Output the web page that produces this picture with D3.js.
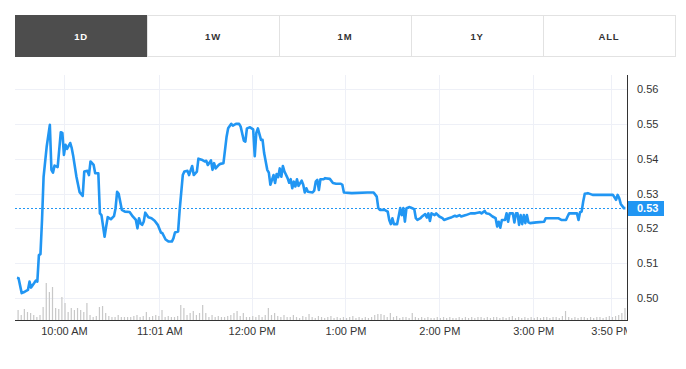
<!DOCTYPE html>
<html>
<head>
<meta charset="utf-8">
<script src="https://cdn.jsdelivr.net/npm/d3@7"></script>
<style>
  body { margin: 0; background: #fff; }
  text { font-family: "Liberation Sans", Arial, sans-serif; }
</style>
</head>
<body>
<div class="canvas"></div>
<script>
// range buttons
const tabs = ['1D', '1W', '1M', '1Y', 'ALL'];
const activeTab = '1D';

// price: minutes after the 9:30 open, and the last trade in that minute
const minutes = [
  0, 1, 3, 5, 7, 8, 9, 11, 12, 13, 14, 15, 16, 17, 19, 21, 22, 23, 24, 26,
  28, 29, 30, 31, 32, 34, 35, 36, 38, 40, 42, 43, 45, 46, 47, 49, 50, 52, 53, 54,
  56, 57, 58, 60, 62, 63, 64, 65, 67, 69, 72, 74, 76, 77, 78, 79, 80, 81, 82, 84,
  86, 88, 90, 92, 93, 95, 97, 99, 100, 101, 103, 104, 106, 107, 109, 110, 112, 113, 115, 116,
  118, 120, 121, 122, 124, 125, 126, 127, 129, 130, 132, 134, 135, 137, 138, 140, 142, 143, 145, 146,
  147, 149, 151, 152, 153, 154, 156, 157, 158, 160, 161, 162, 164, 165, 166, 167, 168, 169, 170, 171,
  173, 174, 175, 176, 177, 178, 179, 180, 182, 183, 184, 185, 186, 189, 190, 191, 192, 193, 194, 196,
  197, 200, 202, 204, 207, 208, 209, 214, 224, 228, 230, 231, 232, 235, 237, 238, 239, 240, 241, 243,
  244, 245, 246, 247, 248, 249, 251, 252, 254, 255, 256, 258, 259, 261, 262, 263, 264, 265, 267, 268,
  270, 272, 273, 276, 278, 280, 281, 283, 284, 287, 290, 293, 296, 297, 299, 300, 302, 304, 306, 307,
  308, 309, 310, 312, 313, 314, 315, 317, 318, 319, 320, 321, 322, 323, 324, 325, 326, 327, 328, 332,
  337, 338, 346, 348, 351, 352, 353, 358, 359, 360, 361, 362, 363, 365, 368, 381, 383, 384, 385, 386,
  388, 389
];
const prices = [
  .5058, .5057, .5014, .5018, .5023, .5047, .5030, .5043, .5050, .5047, .5123, .5126, .5224, .5348, .5435, .5497, .5368, .5360, .5380, .5376,
  .5476, .5474, .5411, .5440, .5428, .5445, .5430, .5406, .5348, .5304, .5293, .5363, .5365, .5353, .5392, .5382, .5358, .5358, .5243, .5238,
  .5176, .5205, .5232, .5226, .5235, .5257, .5305, .5299, .5253, .5248, .5247, .5234, .5224, .5200, .5229, .5214, .5210, .5219, .5245, .5232,
  .5229, .5222, .5210, .5188, .5186, .5168, .5162, .5162, .5171, .5188, .5191, .5253, .5353, .5363, .5365, .5353, .5379, .5353, .5363, .5400,
  .5397, .5392, .5394, .5382, .5395, .5368, .5387, .5372, .5382, .5385, .5387, .5463, .5487, .5500, .5495, .5500, .5500, .5492, .5452, .5449,
  .5487, .5490, .5484, .5407, .5474, .5487, .5454, .5454, .5416, .5368, .5360, .5325, .5353, .5330, .5356, .5347, .5372, .5348, .5379, .5363,
  .5344, .5331, .5341, .5315, .5334, .5320, .5341, .5322, .5337, .5325, .5303, .5315, .5305, .5303, .5308, .5334, .5339, .5310, .5341, .5341,
  .5344, .5342, .5330, .5328, .5328, .5325, .5303, .5301, .5303, .5303, .5291, .5258, .5253, .5253, .5248, .5224, .5212, .5229, .5212, .5212,
  .5234, .5258, .5238, .5258, .5219, .5258, .5261, .5259, .5255, .5229, .5224, .5229, .5234, .5241, .5231, .5243, .5221, .5243, .5238, .5243,
  .5234, .5229, .5224, .5229, .5232, .5236, .5234, .5238, .5234, .5238, .5243, .5243, .5246, .5243, .5250, .5243, .5241, .5234, .5229, .5205,
  .5219, .5202, .5224, .5224, .5243, .5219, .5243, .5243, .5217, .5243, .5243, .5210, .5238, .5212, .5238, .5215, .5238, .5217, .5215, .5217,
  .5219, .5229, .5229, .5224, .5224, .5234, .5243, .5243, .5224, .5246, .5248, .5277, .5299, .5301, .5296, .5296, .5282, .5296, .5287, .5270,
  .5258, .5258
];

// volume in thousands of shares, one bar per 2-minute bucket
const volumeStep = 2;
const volumes = [
  10, 5, 11, 8, 7, 5, 3, 5, 13, 37, 28, 33, 12, 11, 23, 17, 8, 12, 10, 12,
  10, 8, 17, 5, 3, 4, 13, 14, 7, 4, 3, 3, 5, 3, 3, 3, 3, 4, 5, 3,
  4, 8, 3, 4, 5, 4, 10, 3, 4, 3, 3, 4, 15, 12, 5, 7, 9, 5, 7, 15,
  7, 3, 5, 3, 4, 3, 3, 4, 5, 7, 9, 4, 7, 3, 3, 4, 3, 5, 3, 5,
  12, 5, 7, 4, 3, 5, 3, 3, 5, 3, 2, 4, 3, 6, 3, 2, 4, 3, 2, 3,
  4, 2, 3, 2, 3, 2, 3, 4, 2, 3, 2, 3, 2, 3, 5, 6, 6, 5, 3, 7,
  3, 4, 2, 3, 3, 2, 7, 3, 2, 3, 2, 3, 2, 2, 3, 2, 3, 2, 3, 2,
  2, 3, 2, 3, 2, 3, 2, 3, 3, 2, 3, 2, 3, 3, 2, 3, 2, 3, 4, 2,
  3, 2, 3, 2, 3, 2, 3, 2, 3, 3, 2, 3, 3, 2, 4, 9, 3, 2, 3, 2,
  3, 3, 2, 3, 2, 3, 3, 2, 3, 4, 3, 4, 5, 7, 12
];

// axis ticks
const priceTicks = [0.50, 0.51, 0.52, 0.53, 0.54, 0.55, 0.56];
const timeTicks = ['10:00', '11:01', '12:00', '13:00', '14:00', '15:00', '15:50'];
const timeLabels = ['10:00 AM', '11:01 AM', '12:00 PM', '1:00 PM', '2:00 PM', '3:00 PM', '3:50 PM'];
const session = ['09:30', '16:00'];

const W = 686, H = 369;
const plot = { left: 15, right: 627, top: 75, bottom: 320 };
const blue = '#2196f3';

const parseTime = d3.timeParse('%H:%M');
const open = parseTime(session[0]);

const svg = d3.select('.canvas').append('svg')
    .attr('width', W)
    .attr('height', H);

// tab bar
const tabW = 132;
const tabG = svg.append('g').attr('transform', 'translate(15, 15)');
tabG.selectAll('rect').data(tabs).enter().append('rect')
    .attr('x', (d, i) => i * tabW + 0.5)
    .attr('y', 0.5)
    .attr('width', tabW)
    .attr('height', 41)
    .attr('fill', d => d === activeTab ? '#4d4d4d' : '#fff')
    .attr('stroke', d => d === activeTab ? '#4d4d4d' : '#e2e2e2');
tabG.selectAll('text').data(tabs).enter().append('text')
    .attr('x', (d, i) => i * tabW + tabW / 2)
    .attr('y', 25)
    .attr('text-anchor', 'middle')
    .attr('font-size', 9.5)
    .attr('font-weight', 'bold')
    .attr('letter-spacing', 0.8)
    .attr('fill', d => d === activeTab ? '#fff' : '#333')
    .text(d => d);

// scales
const x = d3.scaleTime()
    .domain(session.map(parseTime))
    .range([17, plot.right]);

const y = d3.scaleLinear()
    .domain([0.50, 0.56])
    .range([298, 89]);

const yVol = d3.scaleLinear()
    .domain([0, 37])
    .range([plot.bottom, 283]);

// grid
const grid = svg.append('g');
grid.selectAll('.hgrid').data(priceTicks).enter().append('line')
    .attr('class', 'hgrid')
    .attr('x1', plot.left).attr('x2', plot.right)
    .attr('y1', d => Math.round(y(d)) + 0.5).attr('y2', d => Math.round(y(d)) + 0.5)
    .attr('stroke', '#eef0f7');
grid.selectAll('.vgrid').data(timeTicks).enter().append('line')
    .attr('class', 'vgrid')
    .attr('x1', d => Math.round(x(parseTime(d))) + 0.5).attr('x2', d => Math.round(x(parseTime(d))) + 0.5)
    .attr('y1', plot.top).attr('y2', plot.bottom)
    .attr('stroke', '#eef0f7');

// volume bars
svg.append('g').selectAll('rect').data(volumes).enter().append('rect')
    .attr('x', (d, i) => x(d3.timeMinute.offset(open, i * volumeStep)) + 0.5)
    .attr('y', d => yVol(d))
    .attr('width', 1.2)
    .attr('height', d => plot.bottom - yVol(d))
    .attr('fill', '#c8c8c8');

// price line
const series = minutes.map((m, i) => ({ t: d3.timeMinute.offset(open, m), p: prices[i] }));
const line = d3.line()
    .x(d => x(d.t))
    .y(d => y(d.p));

svg.append('path')
    .datum(series)
    .attr('d', line)
    .attr('fill', 'none')
    .attr('stroke', blue)
    .attr('stroke-width', 2.6)
    .attr('stroke-linejoin', 'round');

// last price marker
const last = prices[prices.length - 1];
svg.append('line')
    .attr('x1', plot.left).attr('x2', plot.right)
    .attr('y1', Math.round(y(last)) + 0.5).attr('y2', Math.round(y(last)) + 0.5)
    .attr('stroke', blue)
    .attr('stroke-dasharray', '2,2');

// x axis, labels cut off at the price axis like the original
svg.append('clipPath').attr('id', 'xclip')
    .append('rect').attr('x', 0).attr('y', 0).attr('width', plot.right).attr('height', 40);

const xAxis = d3.axisBottom(x)
    .tickValues(timeTicks.map(parseTime))
    .tickFormat((d, i) => timeLabels[i])
    .tickSize(0)
    .tickPadding(7);

const xG = svg.append('g')
    .attr('transform', `translate(0, ${plot.bottom})`)
    .attr('clip-path', 'url(#xclip)')
    .call(xAxis);
xG.select('.domain').remove();
xG.selectAll('text')
    .attr('font-size', 11)
    .attr('font-family', '"Liberation Sans", Arial, sans-serif')
    .attr('fill', '#333');

// y axis on the right
const yAxis = d3.axisRight(y)
    .tickValues(priceTicks)
    .tickFormat(d3.format('.2f'))
    .tickSize(0)
    .tickPadding(10);

const yG = svg.append('g')
    .attr('transform', `translate(${plot.right}, 0)`)
    .call(yAxis);
yG.select('.domain').remove();
yG.selectAll('text')
    .attr('font-size', 11)
    .attr('font-family', '"Liberation Sans", Arial, sans-serif')
    .attr('fill', '#333');

// axis lines
svg.append('line')
    .attr('x1', plot.left).attr('x2', plot.right + 1)
    .attr('y1', plot.bottom + 0.5).attr('y2', plot.bottom + 0.5)
    .attr('stroke', '#333');
svg.append('line')
    .attr('x1', plot.right + 0.5).attr('x2', plot.right + 0.5)
    .attr('y1', plot.top).attr('y2', plot.bottom + 1)
    .attr('stroke', '#333');

// last price label
const lastG = svg.append('g')
    .attr('transform', `translate(${plot.right + 1}, ${Math.round(y(last))})`);
lastG.append('rect')
    .attr('x', 0).attr('y', -7)
    .attr('width', 36).attr('height', 15)
    .attr('fill', blue);
lastG.append('text')
    .attr('x', 9).attr('y', 4)
    .attr('font-size', 11)
    .attr('font-weight', 'bold')
    .attr('fill', '#fff')
    .text(d3.format('.2f')(last));
</script>
</body>
</html>
